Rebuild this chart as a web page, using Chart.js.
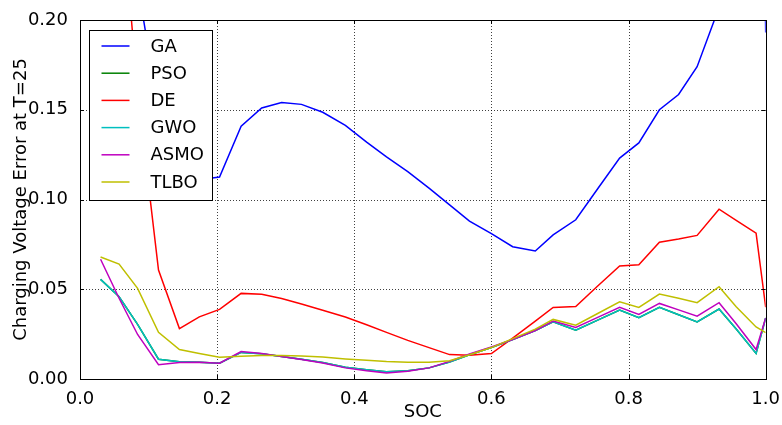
<!DOCTYPE html>
<html>
<head>
<meta charset="utf-8">
<script src="https://cdn.jsdelivr.net/npm/chart.js@4.4.0/dist/chart.umd.min.js"></script>
<style>
body { margin: 0; background: #fff; }
</style>
</head>
<body>
<canvas id="myChart" width="782" height="425"></canvas>
<script>
// SOC sample points
var soc = [0.030, 0.057, 0.084, 0.1145, 0.145, 0.174, 0.2035, 0.235, 0.265, 0.294,
           0.323, 0.354, 0.387, 0.418, 0.447, 0.478, 0.509, 0.539, 0.568, 0.600,
           0.631, 0.664, 0.690, 0.723, 0.755, 0.787, 0.815, 0.845, 0.873, 0.900,
           0.932, 0.957, 0.986, 1.000];

var ga   = [0.60, 0.40, 0.22, 0.15, 0.125, 0.111, 0.1125, 0.1408, 0.151, 0.154,
            0.153, 0.1486, 0.1413, 0.132, 0.1237, 0.1155, 0.1063, 0.097, 0.088, 0.081,
            0.0737, 0.0713, 0.0803, 0.0887, 0.106, 0.1231, 0.1315, 0.150, 0.1585, 0.174,
            0.207, 0.40, 0.60, 0.193];
var de   = [0.60, 0.28, 0.16, 0.0607, 0.0281, 0.0346, 0.0388, 0.0477, 0.0472, 0.0449,
            0.0418, 0.0383, 0.0345, 0.0302, 0.0260, 0.0215, 0.0175, 0.0136, 0.0132, 0.0142,
            0.0228, 0.0322, 0.0399, 0.0404, 0.0518, 0.063, 0.0637, 0.0762, 0.078, 0.080,
            0.0946, 0.0884, 0.0812, 0.040];
var gwo  = [0.0555, 0.0458, 0.0304, 0.011, 0.0096, 0.0093, 0.0088, 0.0148, 0.0140, 0.0125,
            0.0110, 0.0092, 0.0065, 0.0052, 0.0040, 0.0046, 0.0062, 0.0094, 0.0135, 0.0175,
            0.0220, 0.0270, 0.0318, 0.0272, 0.0328, 0.0384, 0.0341, 0.0399, 0.0358, 0.0318,
            0.0390, 0.0278, 0.0142, 0.0340];
var pso  = [0.0555, 0.0458, 0.0304, 0.011, 0.0096, 0.0093, 0.0088, 0.0148, 0.0140, 0.0125,
            0.0110, 0.0092, 0.0065, 0.0052, 0.0040, 0.0046, 0.0062, 0.0094, 0.0135, 0.0175,
            0.0220, 0.0270, 0.0318, 0.0272, 0.0328, 0.0384, 0.0341, 0.0399, 0.0358, 0.0318,
            0.0390, 0.0278, 0.0142, 0.0340];
var asmo = [0.0667, 0.045, 0.0248, 0.008, 0.0092, 0.0093, 0.0088, 0.0153, 0.0142, 0.0125,
            0.0108, 0.0089, 0.0062, 0.0046, 0.0034, 0.0043, 0.0062, 0.0098, 0.0140, 0.0178,
            0.0220, 0.0270, 0.0323, 0.0287, 0.0343, 0.0399, 0.0360, 0.0421, 0.0385, 0.0350,
            0.0425, 0.0308, 0.0164, 0.0340];
var tlbo = [0.068, 0.064, 0.0505, 0.026, 0.0164, 0.0142, 0.0121, 0.0127, 0.0131, 0.0131,
            0.0128, 0.0122, 0.0112, 0.0104, 0.0097, 0.0094, 0.0094, 0.0102, 0.0135, 0.0175,
            0.0225, 0.0278, 0.0332, 0.0300, 0.0365, 0.0430, 0.0399, 0.0473, 0.0450, 0.0425,
            0.0514, 0.0402, 0.0290, 0.0258];

var names  = ['GA', 'PSO', 'DE', 'GWO', 'ASMO', 'TLBO'];
var colors = ['#0000ff', '#008000', '#ff0000', '#00bfbf', '#bf00bf', '#bfbf00'];
var series = [ga, pso, de, gwo, asmo, tlbo];

var xTicks = [0, 0.2, 0.4, 0.6, 0.8, 1.0];
var yTicks = [0, 0.05, 0.10, 0.15, 0.20];

var fontName = 'DejaVu Sans';

function points(vals) {
    return vals.map(function (v, i) { return { x: soc[i], y: v }; });
}

var datasets = series.map(function (s, i) {
    return {
        label: names[i],
        data: points(s),
        borderColor: colors[i],
        backgroundColor: colors[i],
        borderWidth: 1.5,
        pointRadius: 0,
        tension: 0,
        fill: false,
        order: names.length - i   // later series drawn on top, like matplotlib
    };
});

// dotted grid under the lines; box, inward ticks and boxed legend over them
var framePlugin = {
    id: 'frame',
    beforeDatasetsDraw: function (chart) {
        var ctx = chart.ctx;
        var a = chart.chartArea;
        var xs = chart.scales.x, ys = chart.scales.y;
        ctx.save();
        ctx.strokeStyle = 'rgba(0,0,0,0.75)';
        ctx.lineWidth = 1;
        ctx.setLineDash([1, 2]);
        ctx.beginPath();
        xTicks.forEach(function (t) {
            var px = Math.round(xs.getPixelForValue(t)) + 0.5;
            ctx.moveTo(px, a.top); ctx.lineTo(px, a.bottom);
        });
        yTicks.forEach(function (t) {
            var py = Math.round(ys.getPixelForValue(t)) + 0.5;
            ctx.moveTo(a.left, py); ctx.lineTo(a.right, py);
        });
        ctx.stroke();
        ctx.restore();
    },
    afterDatasetsDraw: function (chart) {
        var ctx = chart.ctx;
        var a = chart.chartArea;
        var xs = chart.scales.x, ys = chart.scales.y;
        ctx.save();
        ctx.strokeStyle = '#000';
        ctx.lineWidth = 1;
        ctx.beginPath();
        xTicks.forEach(function (t) {
            var px = Math.round(xs.getPixelForValue(t)) + 0.5;
            ctx.moveTo(px, a.bottom); ctx.lineTo(px, a.bottom - 4);
            ctx.moveTo(px, a.top); ctx.lineTo(px, a.top + 4);
        });
        yTicks.forEach(function (t) {
            var py = Math.round(ys.getPixelForValue(t)) + 0.5;
            ctx.moveTo(a.left, py); ctx.lineTo(a.left + 4, py);
            ctx.moveTo(a.right, py); ctx.lineTo(a.right - 4, py);
        });
        ctx.stroke();
        ctx.strokeRect(Math.round(a.left) + 0.5, Math.round(a.top) + 0.5,
                       Math.round(a.right - a.left), Math.round(a.bottom - a.top));

        // legend
        var lx = Math.round(a.left) + 9.5, ly = Math.round(a.top) + 10.5;
        ctx.fillStyle = '#fff';
        ctx.fillRect(lx, ly, 123, 170);
        ctx.strokeRect(lx, ly, 123, 170);
        ctx.font = '18px "' + fontName + '"';
        ctx.textBaseline = 'middle';
        ctx.textAlign = 'left';
        chart.data.datasets.forEach(function (d, i) {
            var y = ly + 15.5 + i * 27.2;
            ctx.strokeStyle = d.borderColor;
            ctx.lineWidth = 1.5;
            ctx.beginPath();
            ctx.moveTo(lx + 12, y); ctx.lineTo(lx + 40, y);
            ctx.stroke();
            ctx.fillStyle = '#000';
            ctx.fillText(d.label, lx + 61, y + 1);
        });
        ctx.restore();
    }
};

var testChart = new Chart('myChart', {
    type: 'line',
    data: { datasets: datasets },
    plugins: [framePlugin],
    options: {
        responsive: false,
        animation: false,
        layout: { padding: { left: 0, right: 16, top: 20, bottom: 0 } },
        plugins: {
            legend: { display: false },
            tooltip: { enabled: false }
        },
        scales: {
            x: {
                type: 'linear',
                min: 0,
                max: 1,
                afterFit: function (scale) { scale.height = 46; },
                afterBuildTicks: function (scale) {
                    scale.ticks = xTicks.map(function (v) { return { value: v }; });
                },
                ticks: {
                    color: '#000',
                    padding: 2,
                    maxRotation: 0,
                    font: { family: fontName, size: 18 },
                    callback: function (v) { return v.toFixed(1); }
                },
                grid: { display: false },
                border: { display: false },
                title: {
                    display: true,
                    text: 'SOC',
                    color: '#000',
                    font: { family: fontName, size: 18 },
                    padding: { top: 0, bottom: 2 }
                }
            },
            y: {
                type: 'linear',
                min: 0,
                max: 0.2,
                afterFit: function (scale) { scale.width = 80; },
                afterBuildTicks: function (scale) {
                    scale.ticks = yTicks.map(function (v) { return { value: v }; });
                },
                ticks: {
                    color: '#000',
                    padding: 4,
                    font: { family: fontName, size: 18 },
                    callback: function (v) { return v.toFixed(2); }
                },
                grid: { display: false },
                border: { display: false },
                title: {
                    display: true,
                    text: 'Charging Voltage Error at T=25',
                    color: '#000',
                    font: { family: fontName, size: 18 },
                    padding: { top: 11, bottom: 0 }
                }
            }
        }
    }
});
</script>
</body>
</html>
